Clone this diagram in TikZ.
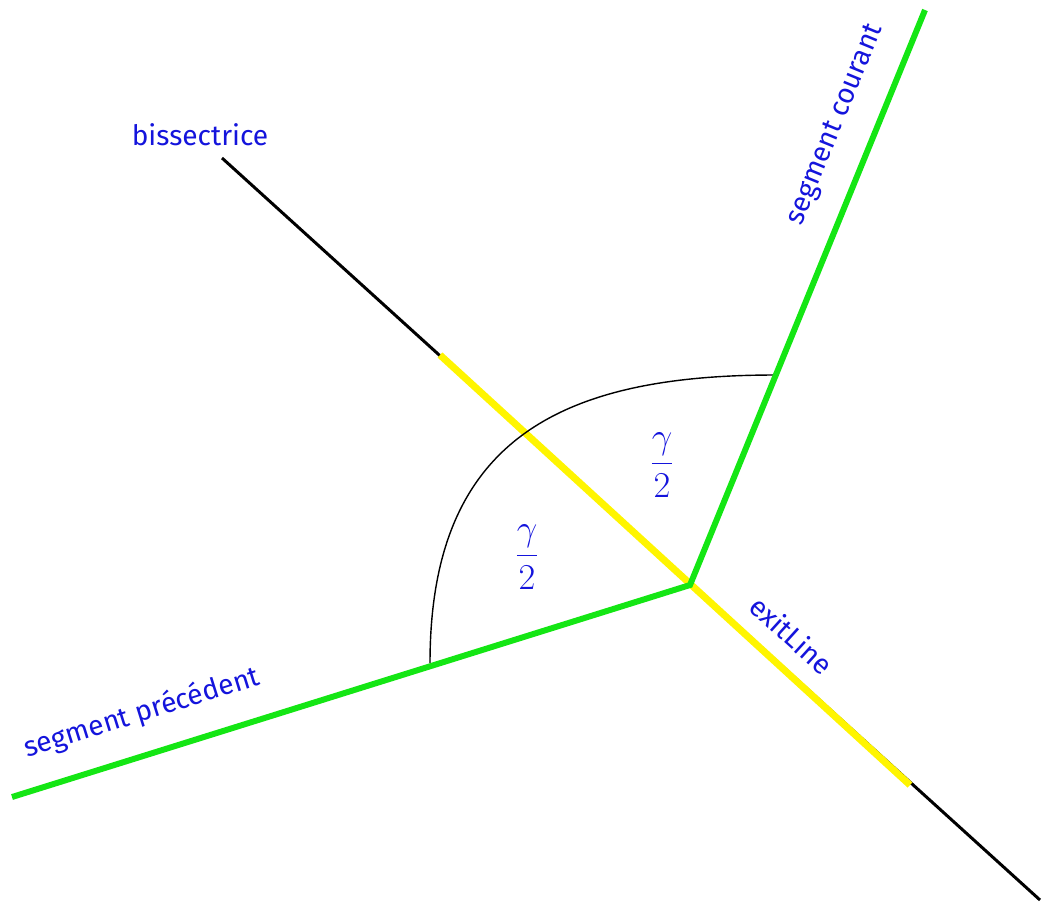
\documentclass[tikz,border=0pt]{standalone}
\usepackage{fontspec}
\newfontfamily\labelfont{Fira Sans}
\definecolor{segGreen}{RGB}{20,230,20}
\definecolor{exitYellow}{RGB}{255,245,0}
\definecolor{labelBlue}{RGB}{20,20,220}
\tikzset{
  seg/.style={draw=segGreen, line width=3.4pt},
  exitseg/.style={draw=exitYellow, line width=4pt},
  bisline/.style={draw=black, line width=1.7pt},
  lbl/.style={text=labelBlue, font=\labelfont\fontsize{16}{19}\selectfont, inner sep=1pt},
  half/.style={text=labelBlue, font=\fontsize{21}{24}\selectfont, inner sep=0pt}
}
\begin{document}
\begin{tikzpicture}[x=0.02cm, y=-0.02cm]
\useasboundingbox (0,0) rectangle (1053,917);
\coordinate (vertex) at (690,585);
\coordinate (prevEnd) at (12,797);
\coordinate (curEnd) at (925,10);
\coordinate (bisTop) at (222,158);
\coordinate (bisBot) at (1040,900);
\coordinate (exitTop) at (440,355);
\coordinate (exitBot) at (910,785);
\coordinate (arcStart) at (430,663);
\coordinate (arcEnd) at (775,375);

\draw[bisline] (bisTop) -- (bisBot);
\draw[exitseg] (exitTop) -- (exitBot);
\draw[black, line width=0.8pt] (arcStart) .. controls (430,440) and (560,375) .. (arcEnd);
\draw[seg] (prevEnd) -- (vertex) -- (curEnd);

\node[lbl] (bisLabel) at (200,135) {bissectrice};
\node[lbl, rotate=67.8] (curLabel) at (836,125) {segment courant};
\node[lbl, rotate=17.4] (prevLabel) at (142,713) {segment précédent};
\node[lbl, rotate=-42.2] (exitLabel) at (792,635) {exitLine};
\node[half] (halfLeft) at (527,557) {$\displaystyle\frac{\gamma}{2}$};
\node[half] (halfRight) at (662,465) {$\displaystyle\frac{\gamma}{2}$};
\end{tikzpicture}
\end{document}
